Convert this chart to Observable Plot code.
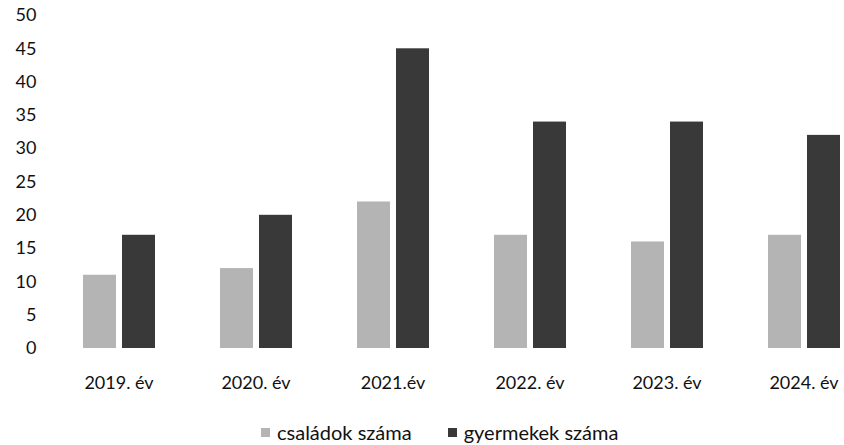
<!DOCTYPE html>
<html>
<head>
<meta charset="utf-8">
<script src="https://cdn.jsdelivr.net/npm/d3@7"></script>
<script src="https://cdn.jsdelivr.net/npm/@observablehq/plot@0.6"></script>
<style>
  html, body { margin: 0; padding: 0; background: #fff; }
  #wrap { position: relative; width: 844px; height: 445px; overflow: hidden; font-family: Lato, "Open Sans", sans-serif; }
  #legend { position: absolute; left: 261px; top: 421px; height: 22px; line-height: 20px; display: flex; align-items: center; gap: 36px; font-size: 20px; color: #111; white-space: nowrap; }
  #legend span.item { display: inline-flex; align-items: center; gap: 7px; }
  #legend span.sw { display: inline-block; width: 9px; height: 9px; }
</style>
</head>
<body>
<div id="wrap"><div id="chart"></div><div id="legend"></div></div>
<script>
const years = ["2019. év", "2020. év", "2021.év", "2022. év", "2023. év", "2024. év"];
const seriesNames = ["családok száma", "gyermekek száma"];
const families = [11, 12, 22, 17, 16, 17];
const children = [17, 20, 45, 34, 34, 32];
const yTicks = [0, 5, 10, 15, 20, 25, 30, 35, 40, 45, 50];
const colors = ["#b4b4b4", "#393939"];

const data = years.flatMap((y, i) => [
  {year: y, series: seriesNames[0], value: families[i]},
  {year: y, series: seriesNames[1], value: children[i]}
]);

const chart = Plot.plot({
  width: 844,
  height: 405,
  marginTop: 15,
  marginBottom: 57,
  marginLeft: 50,
  marginRight: 0,
  style: {fontFamily: "Lato, 'Open Sans', sans-serif", fontSize: "18px", color: "#111", background: "white"},
  fx: {domain: years, range: [50, 872], padding: 0, label: null, tickSize: 0, tickPadding: 28},
  x: {domain: seriesNames, paddingInner: 0.16, paddingOuter: 0.83, axis: null},
  y: {domain: [0, 50], ticks: yTicks, tickSize: 0, tickPadding: 14, label: null},
  color: {domain: seriesNames, range: colors},
  marks: [
    Plot.barY(data, {fx: "year", x: "series", y: "value", fill: "series"})
  ]
});
document.getElementById("chart").appendChild(chart);

const legend = document.getElementById("legend");
seriesNames.forEach((s, i) => {
  const item = document.createElement("span");
  item.className = "item";
  const sw = document.createElement("span");
  sw.className = "sw";
  sw.style.background = colors[i];
  item.appendChild(sw);
  item.appendChild(document.createTextNode(s));
  legend.appendChild(item);
});
</script>
</body>
</html>
